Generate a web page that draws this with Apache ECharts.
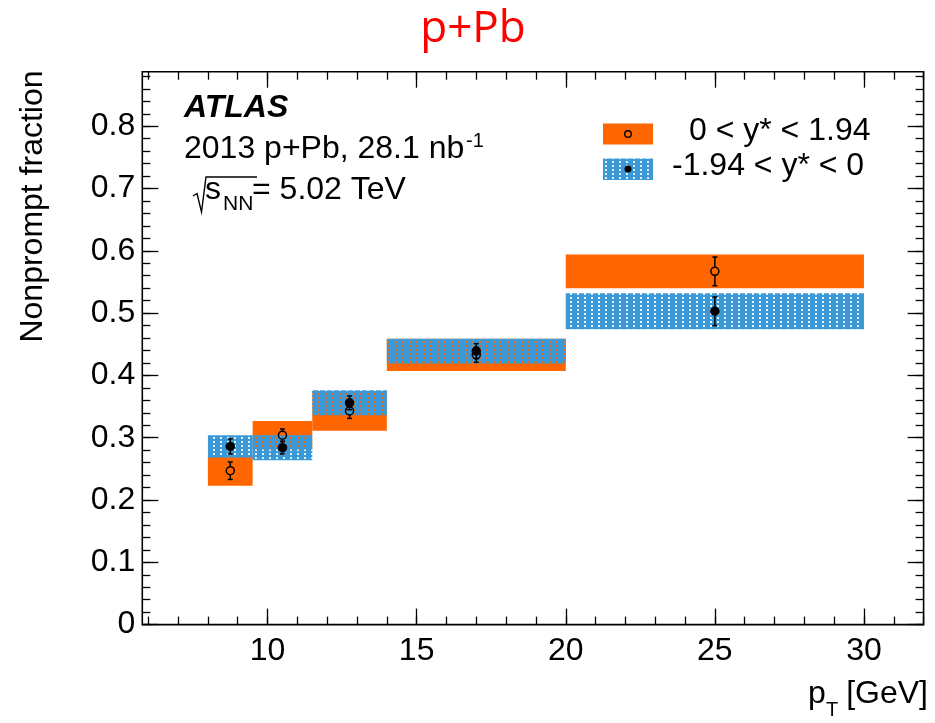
<!DOCTYPE html>
<html>
<head>
<meta charset="utf-8">
<script src="https://cdn.jsdelivr.net/npm/echarts@6/dist/echarts.min.js"></script>
<style>
  html, body { margin: 0; padding: 0; background: #fff; }
  #chart { width: 935px; height: 723px; }
</style>
</head>
<body>
<div id="chart"></div>
<script>
// pT bins [GeV]
const ptLow  = [8, 9.5, 11.5, 14, 20];
const ptHigh = [9.5, 11.5, 14, 20, 30];
const ptMid  = [8.75, 10.5, 12.75, 17, 25];

// 0 < y* < 1.94 (open circles, orange boxes)
const fwdFrac = [0.247, 0.304, 0.343, 0.433, 0.567];
const fwdStat = [0.014, 0.010, 0.012, 0.012, 0.023];
const fwdSyst = [0.024, 0.023, 0.032, 0.026, 0.027];

// -1.94 < y* < 0 (filled circles, hatched blue boxes)
const bwdFrac = [0.286, 0.284, 0.356, 0.439, 0.503];
const bwdStat = [0.012, 0.010, 0.011, 0.012, 0.023];
const bwdSyst = [0.018, 0.020, 0.020, 0.020, 0.029];

// axis ticks
const xMajor = [10, 15, 20, 25, 30];
const xMinor = [6, 7, 8, 9, 10, 11, 12, 13, 14, 15, 16, 17, 18, 19, 20, 21, 22, 23, 24, 25, 26, 27, 28, 29, 30, 31, 32];
const yMajor = [0, 0.1, 0.2, 0.3, 0.4, 0.5, 0.6, 0.7, 0.8];
const yLabels = ['0', '0.1', '0.2', '0.3', '0.4', '0.5', '0.6', '0.7', '0.8'];
const yMinor = [];
for (let k = 0; k <= 44; k++) yMinor.push(+(k * 0.02).toFixed(2));

const X_MIN = 5.8, X_MAX = 32, Y_MIN = 0, Y_MAX = 0.8875;

const ORANGE = '#ff6600';
const BLUE = '#3a99d6';
const FONT = '"Liberation Sans", Arial, Helvetica, sans-serif';

// blue fill with a grid of see-through dots
function makeHatch() {
  const c = document.createElement('canvas');
  c.width = 7; c.height = 4;
  const g = c.getContext('2d');
  g.fillStyle = BLUE;
  g.fillRect(0, 0, 7, 4);
  g.globalCompositeOperation = 'destination-out';
  g.fillStyle = 'rgba(0,0,0,0.85)';
  g.fillRect(3, 1, 2, 2);
  return c;
}
const hatch = { image: makeHatch(), repeat: 'repeat' };

const chart = echarts.init(document.getElementById('chart'), null, { renderer: 'canvas' });

const GRID = { left: 142.3, top: 71.7, width: 781.3, height: 552.9 };

// one axis per side per grid: grid 0 carries major ticks + labels, grid 1 the minor ticks
function tickAxis(kind, position, grid, values, len, labels) {
  const ax = {
    type: 'value', position: position, gridIndex: grid,
    min: kind === 'x' ? X_MIN : Y_MIN,
    max: kind === 'x' ? X_MAX : Y_MAX,
    axisLine: { show: false, onZero: false },
    splitLine: { show: false },
    axisTick: { show: true, inside: true, length: len, customValues: values,
                lineStyle: { color: '#000', width: 1.3 } },
    axisLabel: { show: false }
  };
  if (labels) {
    ax.axisLabel = {
      show: true, inside: false, customValues: values,
      fontFamily: FONT, fontSize: 32, color: '#000',
      margin: kind === 'x' ? 11 : 7,
      formatter: kind === 'x' ? (v) => String(Math.round(v))
                              : (v) => yLabels[yMajor.findIndex(t => Math.abs(t - v) < 1e-6)]
    };
  }
  return ax;
}

function boxData(frac, syst) {
  return ptLow.map((lo, i) => [lo, ptHigh[i], frac[i] - syst[i], frac[i] + syst[i]]);
}
function pointData(frac, stat) {
  return ptMid.map((x, i) => [x, frac[i], stat[i]]);
}

function boxRenderer(fill) {
  return function (params, api) {
    const a = api.coord([api.value(0), api.value(3)]);
    const b = api.coord([api.value(1), api.value(2)]);
    return {
      type: 'rect',
      shape: { x: a[0], y: a[1], width: b[0] - a[0], height: b[1] - a[1] },
      style: { fill: fill }
    };
  };
}

function pointRenderer(filled) {
  const r = 4, cap = 2.5;
  return function (params, api) {
    const x = api.value(0), y = api.value(1), e = api.value(2);
    const c = api.coord([x, y]);
    const t = api.coord([x, y + e]);
    const b = api.coord([x, y - e]);
    const ls = { stroke: '#000', lineWidth: 1.5 };
    return {
      type: 'group',
      children: [
        { type: 'line', shape: { x1: c[0], y1: t[1], x2: c[0], y2: c[1] - r }, style: ls },
        { type: 'line', shape: { x1: c[0], y1: c[1] + r, x2: c[0], y2: b[1] }, style: ls },
        { type: 'line', shape: { x1: c[0] - cap, y1: t[1], x2: c[0] + cap, y2: t[1] }, style: ls },
        { type: 'line', shape: { x1: c[0] - cap, y1: b[1], x2: c[0] + cap, y2: b[1] }, style: ls },
        { type: 'circle', shape: { cx: c[0], cy: c[1], r: r },
          style: { fill: filled ? '#000' : 'none', stroke: '#000', lineWidth: 1.5 } }
      ]
    };
  };
}

function txt(text, x, y, size, extra) {
  return {
    type: 'text', x: x, y: y,
    style: Object.assign({ text: text, fontFamily: FONT, fontSize: size, fill: '#000',
                           align: 'left', verticalAlign: 'middle' }, extra || {})
  };
}

const graphics = [
  // heading
  { type: 'text', x: 473, y: 29,
    style: { text: 'p+Pb', fontFamily: '"Open Sans", "Noto Sans", sans-serif', fontSize: 44,
             fill: '#ff0000', align: 'center', verticalAlign: 'middle' } },
  // ATLAS label block
  txt('ATLAS', 184, 108.5, 32, { fontWeight: 'bold', fontStyle: 'italic' }),
  txt('2013 p+Pb, 28.1 nb', 184, 149.5, 32),
  txt('-1', 466, 141, 20),
  { type: 'polyline', shape: { points: [[193, 196], [197, 193.5], [201.5, 212], [206, 177], [257, 177]] },
    style: { stroke: '#000', lineWidth: 1.4, fill: 'none' } },
  txt('s', 205, 190.5, 32),
  txt('NN', 223, 204, 21),
  txt('= 5.02 TeV', 252, 190.5, 32),
  // legend
  { type: 'rect', shape: { x: 603, y: 123.5, width: 50, height: 21 }, style: { fill: ORANGE } },
  { type: 'circle', shape: { cx: 628, cy: 134, r: 3.3 }, style: { fill: 'none', stroke: '#000', lineWidth: 1.4 } },
  txt('0 < y* < 1.94', 689, 131.5, 32),
  { type: 'rect', shape: { x: 603, y: 158.5, width: 50, height: 21.5 }, style: { fill: hatch } },
  { type: 'circle', shape: { cx: 628, cy: 169, r: 3.5 }, style: { fill: '#000' } },
  txt('-1.94 < y* < 0', 672, 166, 32),
  // axis titles
  { type: 'text', x: 33, y: 206.5, rotation: Math.PI / 2,
    style: { text: 'Nonprompt fraction', fontFamily: FONT, fontSize: 32, fill: '#000',
             align: 'center', verticalAlign: 'middle' } },
  txt('p', 808, 694.5, 32),
  txt('T', 826, 710, 20),
  txt('[GeV]', 928, 694.5, 32, { align: 'right' })
];

const option = {
  animation: false,
  backgroundColor: '#fff',
  grid: [
    Object.assign({ show: true, borderColor: '#000', borderWidth: 1.6,
                    backgroundColor: 'transparent' }, GRID),
    Object.assign({ show: false }, GRID)
  ],
  xAxis: [
    tickAxis('x', 'bottom', 0, xMajor, 16, true),
    tickAxis('x', 'top', 0, xMajor, 16, false),
    tickAxis('x', 'bottom', 1, xMinor, 8, false),
    tickAxis('x', 'top', 1, xMinor, 8, false)
  ],
  yAxis: [
    tickAxis('y', 'left', 0, yMajor, 16, true),
    tickAxis('y', 'right', 0, yMajor, 16, false),
    tickAxis('y', 'left', 1, yMinor, 8, false),
    tickAxis('y', 'right', 1, yMinor, 8, false)
  ],
  series: [
    { type: 'custom', name: '0 < y* < 1.94 syst', xAxisIndex: 0, yAxisIndex: 0, clip: false,
      renderItem: boxRenderer(ORANGE), data: boxData(fwdFrac, fwdSyst), z: 2 },
    { type: 'custom', name: '-1.94 < y* < 0 syst', xAxisIndex: 0, yAxisIndex: 0, clip: false,
      renderItem: boxRenderer(hatch), data: boxData(bwdFrac, bwdSyst), z: 3 },
    { type: 'custom', name: '0 < y* < 1.94', xAxisIndex: 0, yAxisIndex: 0, clip: false,
      renderItem: pointRenderer(false), data: pointData(fwdFrac, fwdStat), z: 4 },
    { type: 'custom', name: '-1.94 < y* < 0', xAxisIndex: 0, yAxisIndex: 0, clip: false,
      renderItem: pointRenderer(true), data: pointData(bwdFrac, bwdStat), z: 5 }
  ],
  graphic: graphics
};

chart.setOption(option);
</script>
</body>
</html>
